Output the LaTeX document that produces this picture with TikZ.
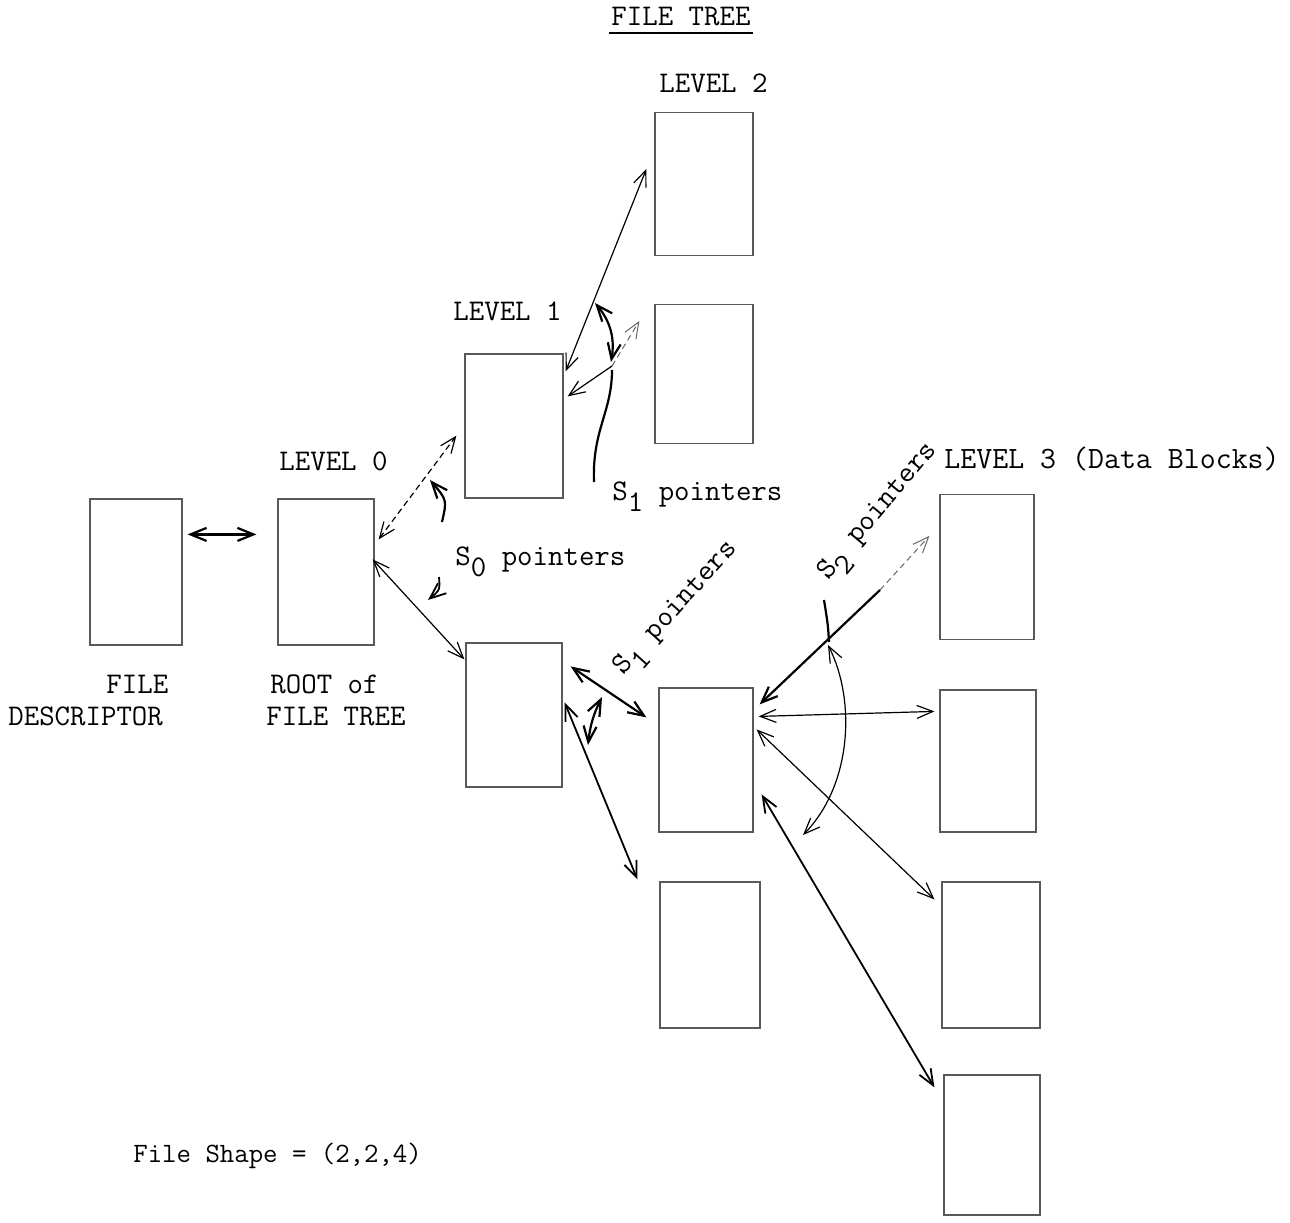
\documentclass[tikz,border=0pt]{standalone}
\usetikzlibrary{arrows.meta,calc}
\begin{document}
\begin{tikzpicture}[x=0.5pt,y=-0.5pt,
  every node/.style={font=\fontsize{15}{18}\selectfont\ttfamily, inner sep=0pt},
  blk/.style n args={2}{draw=black!65, line width=0.6pt, minimum width=#1*0.5pt, minimum height=#2*0.5pt},
  >={Straight Barb[length=8pt,width=6.5pt]},
  thinarr/.style={<->, line width=0.6pt},
  boldarr/.style={<->, line width=1.1pt},
  faint/.style={line width=0.5pt, black!60, densely dashed},
  lead/.style={line width=1.1pt}
]
\useasboundingbox (0,0) rectangle (1290,1222);

% boxes
\node[blk={92}{146}] (fd) at (136,572) {};
\node[blk={96}{146}] (root) at (326,572) {};
\node[blk={98}{144}] (l1a) at (514,426) {};
\node[blk={96}{144}] (l1b) at (514,715) {};
\node[blk={98}{143}] (l2a) at (704,184) {};
\node[blk={98}{139}] (l2b) at (704,374) {};
\node[blk={94}{144}] (l2c) at (706,760) {};
\node[blk={100}{146}] (l2d) at (710,955) {};
\node[blk={94}{145}] (l3a) at (987,567) {};
\node[blk={96}{142}] (l3b) at (988,761) {};
\node[blk={98}{146}] (l3c) at (991,955) {};
\node[blk={96}{140}] (l3d) at (992,1145) {};

% texts
\node[anchor=base] (title) at (681,25) {FILE TREE};
\draw[line width=0.6pt] ($(title.base west)+(-2,8)$) -- ($(title.base east)+(2,8)$);
\node[anchor=base west] (lv2) at (659,92) {LEVEL 2};
\node[anchor=base west] (lv1) at (453,320) {LEVEL 1};
\node[anchor=base west] (lv0) at (279,470) {LEVEL 0};
\node[anchor=base west, font=\fontsize{15.5}{18}\selectfont\ttfamily] (lv3) at (944,468) {LEVEL 3 (Data Blocks)};
\node[anchor=base west] (s1a) at (612,500) {S\raisebox{-0.9ex}{1} pointers};
\node[anchor=base west] (s0) at (455,565) {S\raisebox{-0.9ex}{0} pointers};
\node[rotate=48] (s1b) at (678,610) {S\raisebox{-0.9ex}{1} pointers};
\node[rotate=50] (s2) at (880,513) {S\raisebox{-0.9ex}{2} pointers};
\node[anchor=base west] (fdl1) at (106,693) {FILE};
\node[anchor=base west] (fdl2) at (8,725) {DESCRIPTOR};
\node[anchor=base west] (rtl1) at (270,693) {ROOT of};
\node[anchor=base west] (rtl2) at (266,725) {FILE TREE};
\node[anchor=base west, font=\fontsize{14}{17}\selectfont\ttfamily] (shape) at (133,1162) {File Shape = (2,2,4)};

% file descriptor <-> root
\draw[boldarr] ($(fd.north east)+(5,36)$) -- ($(root.north west)+(-21,36)$);

% S0 pointers
\draw[thinarr, densely dashed] ($(root.north east)+(4,41)$) -- ($(l1a.south west)+(-8,-63)$);
\draw[thinarr] ($(root.north east)+(-2,61)$) -- ($(l1b.north west)+(-1,17)$);
\coordinate (c1a) at (442,522);
\coordinate (c1b) at (430,480);
\draw[lead,->] (c1a) .. controls (447,500) .. (c1b);
\coordinate (c2a) at (439,577);
\coordinate (c2b) at (428,600);
\draw[line width=0.9pt,->] (c2a) .. controls (440,590) .. (c2b);

% S1 pointers (upper)
\draw[thinarr] ($(l1a.north east)+(2,18)$) -- ($(l2a.north west)+(-8,57)$);
\coordinate (x6) at (612,366);
\draw[line width=0.6pt,<-] ($(l1a.north east)+(4,43)$) -- (x6);
\draw[faint,->] (x6) -- ($(l2b.north west)+(-15,17)$);
\coordinate (a1) at (595,303);
\coordinate (a2) at (611,362);
\draw[boldarr] (a1) to[bend left=25] (a2);
\draw[lead] (612,370) .. controls (612,412) and (592,430) .. (594,482);

% S1 pointers (lower)
\draw[boldarr] ($(l1b.north east)+(8,24)$) -- ($(l2c.north west)+(-12,30)$);
\draw[line width=0.9pt,<->] ($(l1b.north east)+(2,60)$) -- ($(l2d.north west)+(-22,-2)$);
\coordinate (b1) at (602,697);
\coordinate (b2) at (588,745);
\draw[boldarr] (b1) to[bend right=10] (b2);

% S2 pointers
\coordinate (m) at (880,590);
\draw[line width=1.1pt,<-] ($(l2c.north east)+(6,17)$) -- (m);
\draw[faint,->] (m) -- ($(l3a.north west)+(-10,42)$);
\draw[thinarr] ($(l2c.north east)+(5,29)$) -- ($(l3b.north west)+(-5,22)$);
\draw[thinarr] ($(l2c.north east)+(3,42)$) -- ($(l3c.north west)+(-7,18)$);
\draw[line width=0.9pt,<->] ($(l2c.north east)+(8,107)$) -- ($(l3d.north west)+(-9,13)$);
\coordinate (d1) at (828,645);
\coordinate (d2) at (803,835);
\draw[thinarr] (d1) .. controls (856,700) and (852,785) .. (d2);
\draw[lead] (829,642) .. controls (828,625) .. (824,600);
\end{tikzpicture}
\end{document}
